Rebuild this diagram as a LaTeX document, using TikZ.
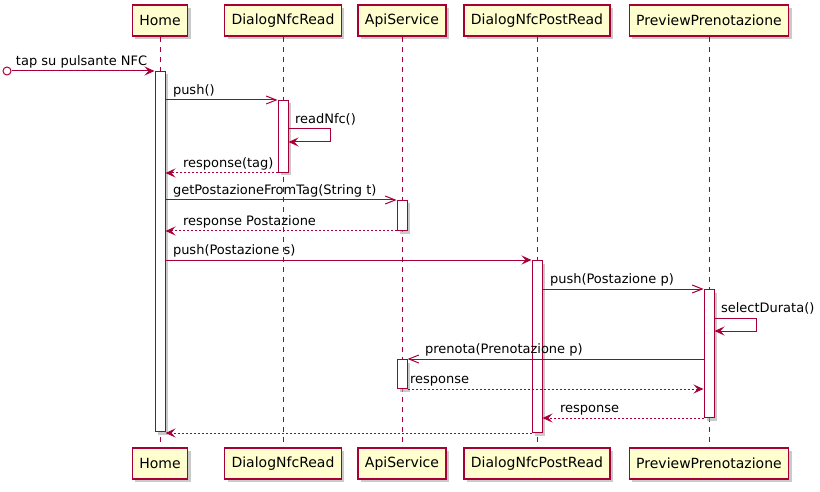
\documentclass[tikz,border=0pt]{standalone}
\usepackage{fontspec}
\setmainfont{DejaVu Sans}
\usepackage{tikz}
\usetikzlibrary{
        arrows.meta,
        positioning,
        shadows
    }
\definecolor{umlred}{HTML}{A80036}
\definecolor{umlfill}{HTML}{FEFECE}
\newcommand{\partfont}{\fontsize{14pt}{17pt}\selectfont}
\newcommand{\msgfont}{\fontsize{13pt}{15pt}\selectfont}
\tikzset{
    participant/.style={draw=umlred,fill=umlfill,line width=1.2pt,minimum height=31pt,
        inner xsep=7pt,font=\partfont,
        drop shadow={shadow xshift=3pt,shadow yshift=-3pt,fill=black!35,opacity=0.6}},
    activation/.style={draw=umlred,fill=white,line width=1pt,minimum width=10pt,inner sep=0pt,
        anchor=north,drop shadow={shadow xshift=3pt,shadow yshift=-3pt,fill=black!35,opacity=0.6}},
    lifeline/.style={draw=umlred,line width=1pt,dash pattern=on 5pt off 5pt},
    call/.style={draw=umlred,line width=1pt,-{Stealth[length=10pt,width=9pt,inset=4pt]}},
    async/.style={draw=umlred,line width=1pt,-{Straight Barb[length=10pt,width=8pt]}},
    reply/.style={call,dash pattern=on 2pt off 2pt},
    lbl/.style={anchor=base west,inner sep=0pt,font=\msgfont,text=black},
    startdot/.style={circle,draw=umlred,line width=1pt,minimum size=8pt,inner sep=0pt}
}

\begin{document}
\begin{tikzpicture}[x=1pt,y=-1pt]
    \useasboundingbox (0,0) rectangle (820,492);
    % participants, top and bottom
    \node[participant] (home)   at (160,20.5) {Home};
    \node[participant] (nfc)    at (283,20.5) {DialogNfcRead};
    \node[participant] (api)    at (402,20.5) {ApiService};
    \node[participant] (post)   at (537,20.5) {DialogNfcPostRead};
    \node[participant] (prev)   at (709,20.5) {PreviewPrenotazione};
    \node[participant] (home-b) at (160,463.5) {Home};
    \node[participant] (nfc-b)  at (283,463.5) {DialogNfcRead};
    \node[participant] (api-b)  at (402,463.5) {ApiService};
    \node[participant] (post-b) at (537,463.5) {DialogNfcPostRead};
    \node[participant] (prev-b) at (709,463.5) {PreviewPrenotazione};
    \foreach \p in {home,nfc,api,post,prev}
        \draw[lifeline] (\p) -- (\p-b);
    % activations
    \node[activation,minimum height=360pt] (homeA) at (160,71)  {};
    \node[activation,minimum height=72pt]  (nfcA)  at (283,100) {};
    \node[activation,minimum height=30pt]  (apiA)  at (402,200) {};
    \node[activation,minimum height=172pt] (postA) at (537,260) {};
    \node[activation,minimum height=128pt] (prevA) at (709,289) {};
    \node[activation,minimum height=29pt]  (apiB)  at (402,359) {};
    % messages
    \node[startdot] (tap) at (7,71) {};
    \draw[call] (tap) -- (homeA.north west)
        node[lbl,at start,xshift=4pt,yshift=5.5pt] {tap su pulsante NFC};
    \draw[async] (homeA.east |- nfcA.north) -- (nfcA.north west)
        node[lbl,at start,xshift=7pt,yshift=5.5pt] {push()};
    \draw[call] ([yshift=-29pt]nfcA.north east) -- ++(42,0)
        node[lbl,at start,xshift=6pt,yshift=5.5pt] {readNfc()} -- ++(0,13) -- ++(-42,0);
    \draw[reply] (nfcA.south west) -- (homeA.east |- nfcA.south)
        node[lbl,at end,xshift=17pt,yshift=5.5pt] {response(tag)};
    \draw[async] (homeA.east |- apiA.north) -- (apiA.north west)
        node[lbl,at start,xshift=7pt,yshift=5.5pt] {getPostazioneFromTag(String t)};
    \draw[reply] (apiA.south west) -- (homeA.east |- apiA.south)
        node[lbl,at end,xshift=17pt,yshift=5.5pt] {response Postazione};
    \draw[call] (homeA.east |- postA.north) -- (postA.north west)
        node[lbl,at start,xshift=7pt,yshift=5.5pt] {push(Postazione s)};
    \draw[async] (postA.east |- prevA.north) -- (prevA.north west)
        node[lbl,at start,xshift=7pt,yshift=5.5pt] {push(Postazione p)};
    \draw[call] ([yshift=-29pt]prevA.north east) -- ++(42,0)
        node[lbl,at start,xshift=6pt,yshift=5.5pt] {selectDurata()} -- ++(0,13) -- ++(-42,0);
    \draw[async] (prevA.west |- apiB.north) -- (apiB.north east)
        node[lbl,at end,xshift=17pt,yshift=5.5pt] {prenota(Prenotazione p)};
    \draw[reply] (apiB.south east) -- (prevA.west |- apiB.south)
        node[lbl,at start,xshift=2pt,yshift=5.5pt] {response};
    \draw[reply] (prevA.south west) -- (postA.east |- prevA.south)
        node[lbl,at end,xshift=17pt,yshift=5.5pt] {response};
    \draw[reply] (postA.south west) -- (homeA.east |- postA.south);
\end{tikzpicture}
\end{document}
